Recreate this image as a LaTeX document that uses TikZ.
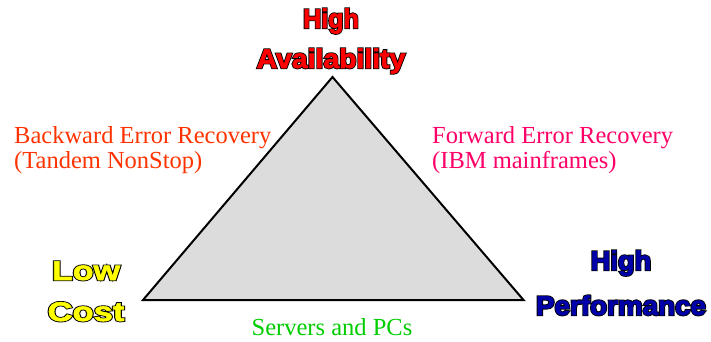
\documentclass[tikz,border=0pt]{standalone}
\usepackage{fontspec}
\setmainfont{Liberation Serif}
% heavy sans for the corner labels, plus a stroked twin used as the outline layer
\newfontfamily\heavyfont{Liberation Sans Bold}[FakeBold=2]
\newfontfamily\heavyedge{Liberation Sans Bold}[FakeBold=8.5]
\usepackage{graphicx}

\definecolor{triFill}{RGB}{220,220,220}
\definecolor{availRed}{RGB}{255,0,0}
\definecolor{costYellow}{RGB}{255,255,0}
\definecolor{perfBlue}{RGB}{0,0,170}
\definecolor{backOrange}{RGB}{255,51,0}
\definecolor{fwdPink}{RGB}{255,0,102}
\definecolor{pcGreen}{RGB}{0,204,0}

% black stroked layer underneath, coloured fill on top
\newcommand\outlined[2]{%
  \rlap{\heavyedge\fontsize{27}{30}\selectfont\color{black}#2}%
  {\heavyfont\fontsize{27}{30}\selectfont\color{#1}#2}}

\tikzset{
  corner/.style={inner sep=0pt, anchor=base,
    font=\heavyfont\fontsize{27}{30}\selectfont},
  remark/.style={inner sep=0pt, anchor=base west,
    font=\fontsize{24.5}{25}\selectfont},
  tri/.style={draw=black, line width=2pt, fill=triFill, line join=miter},
}

\begin{document}
\begin{tikzpicture}[x=1pt, y=1pt]
  \useasboundingbox (0,0) rectangle (711,341);

  % the triangle of trade-offs
  \coordinate (apex) at (332.5,264);
  \coordinate (lowleft) at (143,41);
  \coordinate (lowright) at (523.5,41);
  \draw[tri] (apex) -- (lowleft) -- (lowright) -- cycle;

  % corner labels
  \node[corner] (hiA) at (331,313) {\scalebox{0.93}[1]{\outlined{availRed}{High}}};
  \node[corner] (avail) at (331,273) {\scalebox{1.05}[1]{\outlined{availRed}{Availability}}};

  \node[corner] (low) at (86,61) {\scalebox{1.26}[1]{\outlined{costYellow}{Low}}};
  \node[corner] (cost) at (86,20) {\scalebox{1.28}[1]{\outlined{costYellow}{Cost}}};

  \node[corner] (hiP) at (621,71) {\scalebox{1.01}[1]{\outlined{perfBlue}{High}}};
  \node[corner] (perf) at (621,26) {\scalebox{1.03}[1]{\outlined{perfBlue}{Performance}}};

  % edge annotations
  \node[remark, text=backOrange] (back1) at (14,198) {Backward Error Recovery};
  \node[remark, text=backOrange] (back2) at (14,173) {(Tandem NonStop)};

  \node[remark, text=fwdPink] (fwd1) at (432,198) {Forward Error Recovery};
  \node[remark, text=fwdPink] (fwd2) at (432,173) {(IBM mainframes)};

  \node[remark, anchor=base, text=pcGreen] (pcs) at (332,6) {Servers and PCs};
\end{tikzpicture}
\end{document}
